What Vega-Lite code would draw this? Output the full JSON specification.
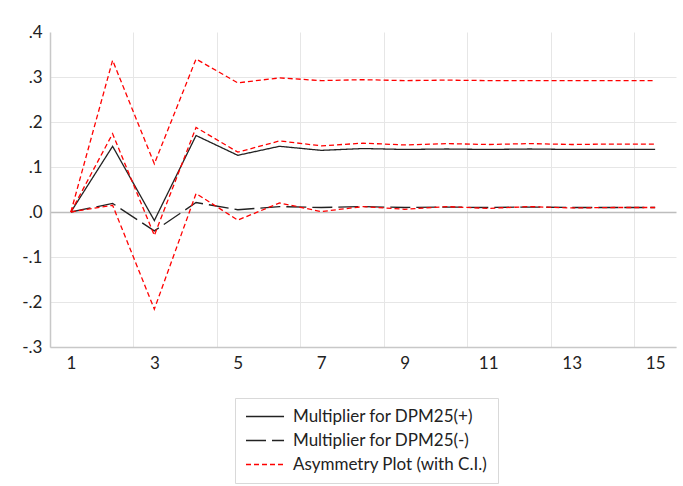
{
  "$schema": "https://vega.github.io/schema/vega-lite/v6.json",
  "width": 626,
  "height": 315,
  "autosize": {"type": "none"},
  "padding": {"left": 50, "top": 32, "right": 7, "bottom": 139},
  "background": "white",
  "config": {
    "view": {"stroke": null},
    "font": "Lato",
    "axis": {
      "labelFont": "Lato",
      "labelFontSize": 17,
      "labelColor": "#222",
      "ticks": false,
      "domainColor": "#c8c8c8",
      "domainWidth": 1.5,
      "title": null
    },
    "legend": {
      "orient": "none",
      "legendX": 185,
      "legendY": 366,
      "padding": 10,
      "strokeColor": "#d9d9d9",
      "fillColor": "white",
      "labelFont": "Lato",
      "labelFontSize": 17,
      "labelColor": "#222",
      "labelLimit": 0,
      "symbolType": "M-1,0H4.07",
      "symbolSize": 225,
      "symbolStrokeWidth": 1.3,
      "labelOffset": 31,
      "rowPadding": 6
    }
  },
  "datasets": {
    "irf": [
      {"x": 1, "s": "Multiplier for DPM25(+)", "l": "plus", "v": 0},
      {"x": 2, "s": "Multiplier for DPM25(+)", "l": "plus", "v": 0.146},
      {"x": 3, "s": "Multiplier for DPM25(+)", "l": "plus", "v": -0.019},
      {"x": 4, "s": "Multiplier for DPM25(+)", "l": "plus", "v": 0.170},
      {"x": 5, "s": "Multiplier for DPM25(+)", "l": "plus", "v": 0.126},
      {"x": 6, "s": "Multiplier for DPM25(+)", "l": "plus", "v": 0.146},
      {"x": 7, "s": "Multiplier for DPM25(+)", "l": "plus", "v": 0.137},
      {"x": 8, "s": "Multiplier for DPM25(+)", "l": "plus", "v": 0.141},
      {"x": 9, "s": "Multiplier for DPM25(+)", "l": "plus", "v": 0.139},
      {"x": 10, "s": "Multiplier for DPM25(+)", "l": "plus", "v": 0.140},
      {"x": 11, "s": "Multiplier for DPM25(+)", "l": "plus", "v": 0.139},
      {"x": 12, "s": "Multiplier for DPM25(+)", "l": "plus", "v": 0.140},
      {"x": 13, "s": "Multiplier for DPM25(+)", "l": "plus", "v": 0.139},
      {"x": 14, "s": "Multiplier for DPM25(+)", "l": "plus", "v": 0.139},
      {"x": 15, "s": "Multiplier for DPM25(+)", "l": "plus", "v": 0.139},
      {"x": 1, "s": "Multiplier for DPM25(-)", "l": "minus", "v": 0},
      {"x": 2, "s": "Multiplier for DPM25(-)", "l": "minus", "v": 0.019},
      {"x": 3, "s": "Multiplier for DPM25(-)", "l": "minus", "v": -0.042},
      {"x": 4, "s": "Multiplier for DPM25(-)", "l": "minus", "v": 0.021},
      {"x": 5, "s": "Multiplier for DPM25(-)", "l": "minus", "v": 0.005},
      {"x": 6, "s": "Multiplier for DPM25(-)", "l": "minus", "v": 0.012},
      {"x": 7, "s": "Multiplier for DPM25(-)", "l": "minus", "v": 0.010},
      {"x": 8, "s": "Multiplier for DPM25(-)", "l": "minus", "v": 0.012},
      {"x": 9, "s": "Multiplier for DPM25(-)", "l": "minus", "v": 0.010},
      {"x": 10, "s": "Multiplier for DPM25(-)", "l": "minus", "v": 0.011},
      {"x": 11, "s": "Multiplier for DPM25(-)", "l": "minus", "v": 0.010},
      {"x": 12, "s": "Multiplier for DPM25(-)", "l": "minus", "v": 0.011},
      {"x": 13, "s": "Multiplier for DPM25(-)", "l": "minus", "v": 0.010},
      {"x": 14, "s": "Multiplier for DPM25(-)", "l": "minus", "v": 0.010},
      {"x": 15, "s": "Multiplier for DPM25(-)", "l": "minus", "v": 0.010},
      {"x": 1, "s": "Asymmetry Plot (with C.I.)", "l": "asym", "v": 0},
      {"x": 2, "s": "Asymmetry Plot (with C.I.)", "l": "asym", "v": 0.174},
      {"x": 3, "s": "Asymmetry Plot (with C.I.)", "l": "asym", "v": -0.052},
      {"x": 4, "s": "Asymmetry Plot (with C.I.)", "l": "asym", "v": 0.188},
      {"x": 5, "s": "Asymmetry Plot (with C.I.)", "l": "asym", "v": 0.133},
      {"x": 6, "s": "Asymmetry Plot (with C.I.)", "l": "asym", "v": 0.158},
      {"x": 7, "s": "Asymmetry Plot (with C.I.)", "l": "asym", "v": 0.147},
      {"x": 8, "s": "Asymmetry Plot (with C.I.)", "l": "asym", "v": 0.153},
      {"x": 9, "s": "Asymmetry Plot (with C.I.)", "l": "asym", "v": 0.149},
      {"x": 10, "s": "Asymmetry Plot (with C.I.)", "l": "asym", "v": 0.152},
      {"x": 11, "s": "Asymmetry Plot (with C.I.)", "l": "asym", "v": 0.150},
      {"x": 12, "s": "Asymmetry Plot (with C.I.)", "l": "asym", "v": 0.152},
      {"x": 13, "s": "Asymmetry Plot (with C.I.)", "l": "asym", "v": 0.150},
      {"x": 14, "s": "Asymmetry Plot (with C.I.)", "l": "asym", "v": 0.151},
      {"x": 15, "s": "Asymmetry Plot (with C.I.)", "l": "asym", "v": 0.151},
      {"x": 1, "s": "Asymmetry Plot (with C.I.)", "l": "upper", "v": 0},
      {"x": 2, "s": "Asymmetry Plot (with C.I.)", "l": "upper", "v": 0.337},
      {"x": 3, "s": "Asymmetry Plot (with C.I.)", "l": "upper", "v": 0.107},
      {"x": 4, "s": "Asymmetry Plot (with C.I.)", "l": "upper", "v": 0.340},
      {"x": 5, "s": "Asymmetry Plot (with C.I.)", "l": "upper", "v": 0.287},
      {"x": 6, "s": "Asymmetry Plot (with C.I.)", "l": "upper", "v": 0.298},
      {"x": 7, "s": "Asymmetry Plot (with C.I.)", "l": "upper", "v": 0.292},
      {"x": 8, "s": "Asymmetry Plot (with C.I.)", "l": "upper", "v": 0.294},
      {"x": 9, "s": "Asymmetry Plot (with C.I.)", "l": "upper", "v": 0.292},
      {"x": 10, "s": "Asymmetry Plot (with C.I.)", "l": "upper", "v": 0.293},
      {"x": 11, "s": "Asymmetry Plot (with C.I.)", "l": "upper", "v": 0.292},
      {"x": 12, "s": "Asymmetry Plot (with C.I.)", "l": "upper", "v": 0.292},
      {"x": 13, "s": "Asymmetry Plot (with C.I.)", "l": "upper", "v": 0.292},
      {"x": 14, "s": "Asymmetry Plot (with C.I.)", "l": "upper", "v": 0.292},
      {"x": 15, "s": "Asymmetry Plot (with C.I.)", "l": "upper", "v": 0.292},
      {"x": 1, "s": "Asymmetry Plot (with C.I.)", "l": "lower", "v": 0},
      {"x": 2, "s": "Asymmetry Plot (with C.I.)", "l": "lower", "v": 0.015},
      {"x": 3, "s": "Asymmetry Plot (with C.I.)", "l": "lower", "v": -0.216},
      {"x": 4, "s": "Asymmetry Plot (with C.I.)", "l": "lower", "v": 0.041},
      {"x": 5, "s": "Asymmetry Plot (with C.I.)", "l": "lower", "v": -0.018},
      {"x": 6, "s": "Asymmetry Plot (with C.I.)", "l": "lower", "v": 0.020},
      {"x": 7, "s": "Asymmetry Plot (with C.I.)", "l": "lower", "v": 0.001},
      {"x": 8, "s": "Asymmetry Plot (with C.I.)", "l": "lower", "v": 0.012},
      {"x": 9, "s": "Asymmetry Plot (with C.I.)", "l": "lower", "v": 0.006},
      {"x": 10, "s": "Asymmetry Plot (with C.I.)", "l": "lower", "v": 0.012},
      {"x": 11, "s": "Asymmetry Plot (with C.I.)", "l": "lower", "v": 0.008},
      {"x": 12, "s": "Asymmetry Plot (with C.I.)", "l": "lower", "v": 0.012},
      {"x": 13, "s": "Asymmetry Plot (with C.I.)", "l": "lower", "v": 0.009},
      {"x": 14, "s": "Asymmetry Plot (with C.I.)", "l": "lower", "v": 0.010},
      {"x": 15, "s": "Asymmetry Plot (with C.I.)", "l": "lower", "v": 0.010}
    ]
  },
  "data": {"name": "irf"},
  "mark": {"type": "line", "strokeWidth": 1.3},
  "encoding": {
    "x": {
      "field": "x",
      "type": "quantitative",
      "scale": {"domain": [0.5, 15.5], "nice": false, "zero": false},
      "axis": {
        "values": [1, 2.5, 3, 4.5, 5, 6.5, 7, 8.5, 9, 10.5, 11, 12.5, 13, 14.5, 15],
        "grid": true,
        "gridColor": "#e6e6e6",
        "gridOpacity": {"condition": {"test": "datum.value % 1 == 0", "value": 0}, "value": 1},
        "labelExpr": "datum.value % 1 == 0 ? datum.label : ''",
        "labelOverlap": false,
        "labelFlush": false,
        "labelPadding": 8
      }
    },
    "y": {
      "field": "v",
      "type": "quantitative",
      "scale": {"domain": [-0.3, 0.4], "nice": false, "zero": false},
      "axis": {
        "values": [-0.3, -0.2, -0.1, 0, 0.1, 0.2, 0.3, 0.4],
        "grid": true,
        "gridColor": {"condition": {"test": "abs(datum.value) < 0.001", "value": "#bdbdbd"}, "value": "#e6e6e6"},
        "gridWidth": {"condition": {"test": "abs(datum.value) < 0.001", "value": 1.5}, "value": 1},
        "gridOpacity": {"condition": {"test": "datum.value > 0.35", "value": 0}, "value": 1},
        "labelExpr": "(datum.value < -0.001 ? '-' : '') + '.' + round(abs(datum.value) * 10)",
        "labelPadding": 8,
        "labelFlush": false,
        "labelOverlap": false
      }
    },
    "color": {
      "field": "s",
      "type": "nominal",
      "scale": {
        "domain": ["Multiplier for DPM25(+)", "Multiplier for DPM25(-)", "Asymmetry Plot (with C.I.)"],
        "range": ["#222222", "#222222", "#ff0000"]
      },
      "legend": {"title": null}
    },
    "strokeDash": {
      "field": "s",
      "type": "nominal",
      "scale": {
        "domain": ["Multiplier for DPM25(+)", "Multiplier for DPM25(-)", "Asymmetry Plot (with C.I.)"],
        "range": [[1, 0], [20, 6], [5, 3]]
      },
      "legend": {"title": null}
    },
    "detail": {"field": "l", "type": "nominal"}
  }
}
